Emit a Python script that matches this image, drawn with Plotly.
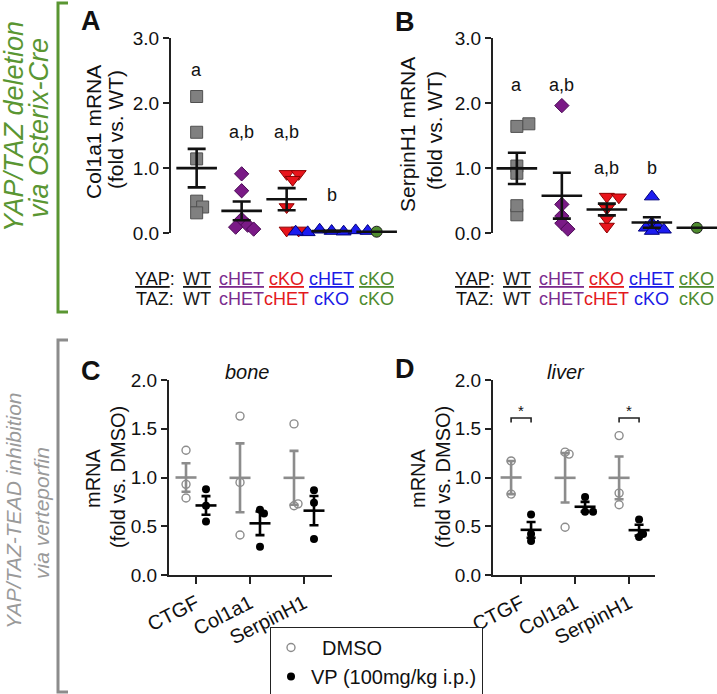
import numpy as np
import plotly.graph_objects as go

W, H = 717, 694
FONT = "Liberation Sans"

# ---------------- data ----------------
yap_labels = ["WT", "cHET", "cKO", "cHET", "cKO"]
taz_labels = ["WT", "cHET", "cHET", "cKO", "cKO"]

col1a1_groups = [
    [2.10, 1.55, 1.14, 0.49, 0.40, 0.31],          # WT/WT
    [0.91, 0.65, 0.21, 0.12, 0.09, 0.06],          # cHET/cHET
    [0.91, 0.91, 0.82, 0.40, 0.04, 0.04],          # cKO/cHET
    [0.03, 0.02, 0.05, 0.04, 0.01, 0.03, 0.02],    # cHET/cKO
    [0.02],                                        # cKO/cKO
]
serpinh1_groups = [
    [1.64, 1.68, 1.03, 0.92, 0.28, 0.42],
    [1.96, 0.44, 0.26, 0.15, 0.06],
    [0.56, 0.55, 0.38, 0.22, 0.10],
    [0.56, 0.15, 0.10, 0.08, 0.05, 0.03],
    [0.08],
]
letters_a = ["a", "a,b", "a,b", "b", ""]
letters_a_y = [2.50, 1.55, 1.55, 0.58, None]
letters_b = ["a", "a,b", "a,b", "b", ""]
letters_b_y = [2.28, 2.28, 1.00, 1.00, None]

genes = ["CTGF", "Col1a1", "SerpinH1"]
bone_dmso = [[1.28, 0.93, 0.79], [1.63, 0.95, 0.41], [1.55, 0.71, 0.73]]
bone_vp = [[0.88, 0.71, 0.55], [0.67, 0.63, 0.29], [0.87, 0.74, 0.37]]
liver_dmso = [[1.17, 0.83], [1.26, 1.24, 0.49], [1.43, 0.84, 0.72]]
liver_vp = [[0.62, 0.35, 0.42], [0.80, 0.65, 0.65], [0.57, 0.39, 0.42]]
liver_sig = ["*", "", "*"]
liver_sig_y = [1.61, None, 1.61]

# ---------------- styles ----------------
geno_text_colors = ["#1a1a1a", "#7B2D8E", "#E3191D", "#1A1AE6", "#4E8B2E"]
geno_markers = [
    dict(symbol="square", size=12, color="#808080", line=dict(color="#505050", width=1)),
    dict(symbol="diamond", size=11, color="#7A1A86", line=dict(color="#4a0a55", width=1)),
    dict(symbol="triangle-down", size=13, color="#E8141B", line=dict(color="#8a0000", width=1)),
    dict(symbol="triangle-up", size=13, color="#1C1CF0", line=dict(color="#00007a", width=1)),
    dict(symbol="circle", size=11, color="#4E8B2E", line=dict(color="#1a1a1a", width=1)),
]
GREEN = "#5A9632"
GRAY_BR = "#8C8C8C"
DMSO_C = "#8C8C8C"

# pixel geometry of panels
A_X0, B_X0 = 171, 493
AB_PPU = 45.0
A_RANGE = [-0.57, 4.5]
B_RANGE = [-0.53, 4.42]
AB_TOP, AB_BOT = 38, 233
C_X0, D_X0 = 169, 493
CD_PPU = 54.0
C_RANGE = [-0.5, 2.52]
D_RANGE = [-0.52, 2.48]
CD_TOP, CD_BOT = 380, 575
OFF = 0.185


def xd(x0, rng, ppu):
    return [x0 / W, min(1.0, (x0 + (rng[1] - rng[0]) * ppu) / W)]


def yd(top, bot):
    return [1 - bot / H, 1 - top / H]


def px(x):
    return x / W


def py(y):
    return 1 - y / H


def swarm(vals, ppu_y, ppu_x, diam):
    thr = 0.55 * diam
    step = 0.5 * diam
    placed, offs = [], []
    cands = [0.0]
    for j in range(1, 12):
        cands += [j * step, -j * step]
    for v in vals:
        yv = v * ppu_y
        chosen = cands[-1]
        for c in cands:
            if all((c - a) ** 2 + (yv - b) ** 2 >= thr ** 2 for a, b in placed):
                chosen = c
                break
        placed.append((chosen, yv))
        offs.append(chosen / ppu_x)
    return offs


def mean_sem(v):
    v = np.asarray(v, float)
    m = v.mean()
    s = v.std(ddof=1) / np.sqrt(len(v)) if len(v) > 1 else None
    return m, s


fig = go.Figure()

# ---------------- panels A and B ----------------
ab_ppu_y = (AB_BOT - AB_TOP) / 3.0
for groups, xa, ya in [(col1a1_groups, "x", "y"), (serpinh1_groups, "x2", "y2")]:
    for i, vals in enumerate(groups):
        offs = swarm(vals, ab_ppu_y, AB_PPU, 12)
        fig.add_trace(go.Scatter(
            x=[i + o for o in offs], y=vals, mode="markers", marker=geno_markers[i],
            xaxis=xa, yaxis=ya, showlegend=False, cliponaxis=False, hoverinfo="y"))
        m, s = mean_sem(vals)
        fig.add_trace(go.Scatter(
            x=[i], y=[m], mode="markers",
            marker=dict(symbol="line-ew", size=29, line=dict(color="#111", width=2.6)),
            error_y=(dict(type="data", array=[s], width=9, thickness=2.6, color="#111")
                     if s is not None else dict(visible=False)),
            xaxis=xa, yaxis=ya, showlegend=False, cliponaxis=False, hoverinfo="y"))

# ---------------- panels C and D ----------------
cd_ppu_y = (CD_BOT - CD_TOP) / 2.0
for dm, vp, xa, ya, leg in [(bone_dmso, bone_vp, "x3", "y3", True),
                            (liver_dmso, liver_vp, "x4", "y4", False)]:
    for i in range(len(genes)):
        for vals, sign, name, mk, col in [
            (dm[i], -1, "\u00a0\u00a0DMSO",
             dict(symbol="circle-open", size=8, color=DMSO_C, line=dict(width=1.4)), DMSO_C),
            (vp[i], 1, "VP (100mg/kg i.p.)",
             dict(symbol="circle", size=8, color="#000"), "#000")]:
            offs = swarm(vals, cd_ppu_y, CD_PPU, 8)
            fig.add_trace(go.Scatter(
                x=[i + sign * OFF + o for o in offs], y=vals, mode="markers", marker=mk,
                xaxis=xa, yaxis=ya, name=name, legendgroup=name,
                showlegend=(leg and i == 0), cliponaxis=False, hoverinfo="y"))
            m, s = mean_sem(vals)
            fig.add_trace(go.Scatter(
                x=[i + sign * OFF], y=[m], mode="markers",
                marker=dict(symbol="line-ew", size=15, line=dict(color=col, width=2.6)),
                error_y=dict(type="data", array=[s], width=4.5, thickness=2.6, color=col),
                xaxis=xa, yaxis=ya, showlegend=False, cliponaxis=False, hoverinfo="y"))

# significance brackets in D
for i, (sig, sy) in enumerate(zip(liver_sig, liver_sig_y)):
    if not sig:
        continue
    fig.add_trace(go.Scatter(
        x=[i - OFF, i - OFF, i + OFF, i + OFF], y=[sy - 0.045, sy, sy, sy - 0.045],
        mode="lines", line=dict(color="#222", width=1.6), xaxis="x4", yaxis="y4",
        showlegend=False, cliponaxis=False, hoverinfo="skip"))
    fig.add_annotation(x=i, y=sy + 0.075, xref="x4", yref="y4", text=sig,
                       showarrow=False, font=dict(size=15, color="#111"))

# ---------------- axes ----------------
tickfont = dict(family=FONT, size=19, color="#111")
yaxis_common = dict(showline=True, linecolor="#222", linewidth=2, ticks="outside",
                    ticklen=6, tickwidth=2, tickcolor="#222", showgrid=False,
                    zeroline=False, tickfont=tickfont, tickformat=".1f", fixedrange=True,
                    automargin=False)
hidden_x = dict(showline=False, showticklabels=False, ticks="", showgrid=False,
                zeroline=False, fixedrange=True, automargin=False)
cd_x = dict(showline=True, linecolor="#222", linewidth=2, ticks="outside", ticklen=7,
            tickwidth=2, tickcolor="#222", showgrid=False, zeroline=False,
            tickvals=list(range(len(genes))), ticktext=genes, tickangle=-27,
            tickfont=dict(family=FONT, size=20, color="#111"), fixedrange=True,
            automargin=False)

fig.update_layout(
    width=W, height=H, margin=dict(l=0, r=0, t=0, b=0, pad=0, autoexpand=False),
    paper_bgcolor="white", plot_bgcolor="white",
    font=dict(family=FONT, color="#111"),
    xaxis=dict(domain=xd(A_X0, A_RANGE, AB_PPU), range=A_RANGE, anchor="y", **hidden_x),
    yaxis=dict(domain=yd(AB_TOP, AB_BOT), range=[0, 3], dtick=1, anchor="x", **yaxis_common),
    xaxis2=dict(domain=xd(B_X0, B_RANGE, AB_PPU), range=B_RANGE, anchor="y2", **hidden_x),
    yaxis2=dict(domain=yd(AB_TOP, AB_BOT), range=[0, 3], dtick=1, anchor="x2", **yaxis_common),
    xaxis3=dict(domain=xd(C_X0, C_RANGE, CD_PPU), range=C_RANGE, anchor="y3", **cd_x),
    yaxis3=dict(domain=yd(CD_TOP, CD_BOT), range=[0, 2], dtick=0.5, anchor="x3", **yaxis_common),
    xaxis4=dict(domain=xd(D_X0, D_RANGE, CD_PPU), range=D_RANGE, anchor="y4", **cd_x),
    yaxis4=dict(domain=yd(CD_TOP, CD_BOT), range=[0, 2], dtick=0.5, anchor="x4", **yaxis_common),
    showlegend=True,
    legend=dict(x=px(270), y=py(627), xanchor="left", yanchor="top",
                bordercolor="#222", borderwidth=1, bgcolor="white",
                font=dict(family=FONT, size=20, color="#111"),
                itemsizing="trace", tracegroupgap=0),
)

# ---------------- annotations ----------------
def ann(x, y, text, size, color="#111", angle=0, xref="paper", yref="paper", **kw):
    fig.add_annotation(x=x, y=y, xref=xref, yref=yref, text=text, showarrow=False,
                       textangle=angle, font=dict(family=FONT, size=size, color=color),
                       xanchor="center", yanchor="middle", **kw)

# panel letters
for lab, (lx, ly) in zip("ABCD", [(91, 21), (405, 22), (91, 371), (405, 369)]):
    ann(px(lx), py(ly), f"<b>{lab}</b>", 27)

# y titles (one annotation per line)
ann(px(93), py(132), "Col1a1 mRNA", 21, angle=-90)
ann(px(116), py(130), "(fold vs. WT)", 21, angle=-90)
ann(px(408), py(135), "SerpinH1 mRNA", 21, angle=-90)
ann(px(434), py(131), "(fold vs. WT)", 21, angle=-90)
for cx in (93, 418):
    ann(px(cx), py(478), "mRNA", 20, angle=-90)
    ann(px(cx + 25), py(477), "(fold vs. DMSO)", 20, angle=-90)

# tissue labels
ann(px(247), py(372), "<i>bone</i>", 20)
ann(px(566), py(372), "<i>liver</i>", 20)

# significance letters
for letters, ly, xa, ya in [(letters_a, letters_a_y, "x", "y"), (letters_b, letters_b_y, "x2", "y2")]:
    for i, (t, yv) in enumerate(zip(letters, ly)):
        if t:
            ann(i, yv, t, 18, xref=xa, yref=ya)

# genotype table
for xa, x0 in [("x", A_X0 + (0 - A_RANGE[0]) * AB_PPU), ("x2", B_X0 + (0 - B_RANGE[0]) * AB_PPU)]:
    ann(px(x0 - 42), py(279), "<u>YAP</u>:", 18)
    ann(px(x0 - 42), py(299), "TAZ:", 18)
    for i, (ty, tt) in enumerate(zip(yap_labels, taz_labels)):
        c = geno_text_colors[i]
        ann(i, py(279), f"<u>{ty}</u>", 18, color=c, xref=xa)
        ann(i, py(299), tt, 18, color=c, xref=xa)

# side brackets and texts
def bracket(top, bot, color):
    fig.add_shape(type="path",
                  path=f"M {px(68)} {py(top)} L {px(58)} {py(top)} L {px(58)} {py(bot)} L {px(68)} {py(bot)}",
                  xref="paper", yref="paper", line=dict(color=color, width=3))

bracket(3, 312, GREEN)
bracket(340, 692, GRAY_BR)
ann(px(14), py(127), "<i>YAP/TAZ deletion</i>", 27, color=GREEN, angle=-90)
ann(px(39), py(128), "<i>via Osterix-Cre</i>", 27, color=GREEN, angle=-90)
ann(px(13), py(511), "<i>YAP/TAZ-TEAD inhibition</i>", 21, color="#9A9A9A", angle=-90)
ann(px(41), py(513), "<i>via verteporfin</i>", 21, color="#9A9A9A", angle=-90)

fig.write_html("out.html", config={"displayModeBar": False},
               post_script="document.body.style.margin='0px';")
